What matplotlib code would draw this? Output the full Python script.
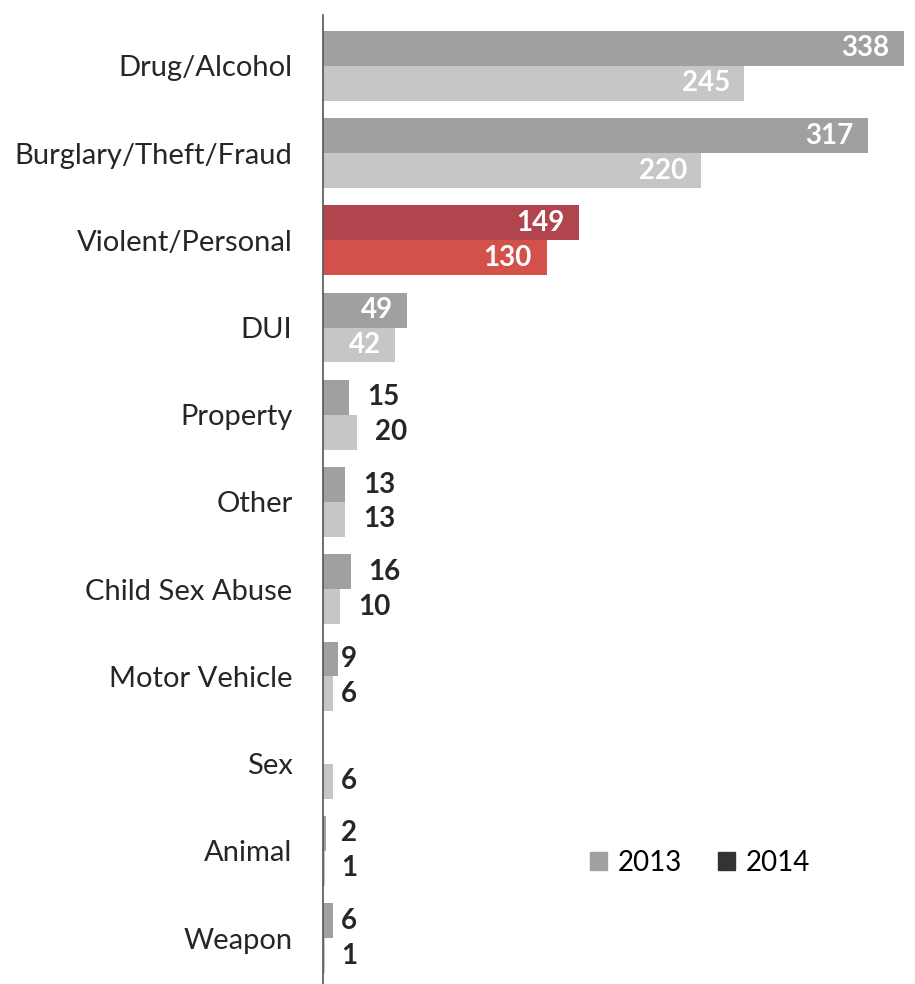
import numpy as np
import matplotlib.pyplot as plt
from matplotlib.patches import Patch

plt.rcParams['font.family'] = ['Lato', 'DejaVu Sans']

categories = ["Drug/Alcohol", "Burglary/Theft/Fraud", "Violent/Personal", "DUI",
              "Property", "Other", "Child Sex Abuse", "Motor Vehicle", "Sex",
              "Animal", "Weapon"]
vals_2013 = [338, 317, 149, 49, 15, 13, 16, 9, np.nan, 2, 6]
vals_2014 = [245, 220, 130, 42, 20, 13, 10, 6, 6, 1, 1]
highlight = "Violent/Personal"

c13, c14 = "#a0a0a0", "#c6c6c8"
r13, r14 = "#b0454d", "#d4504b"

fig = plt.figure(figsize=(9.15, 9.84), dpi=100)
ax = fig.add_axes([323 / 915, 0, 1 - 323 / 915, 1 - 15 / 984])

y = np.arange(len(categories))
h = 0.4
for i, cat in enumerate(categories):
    hl = cat == highlight
    for v, off, col in [(vals_2013[i], -h / 2, r13 if hl else c13),
                        (vals_2014[i], h / 2, r14 if hl else c14)]:
        if np.isnan(v):
            continue
        ax.barh(y[i] + off, v, height=h, color=col)
        if v >= 40:
            ax.text(v - 8.5, y[i] + off, str(int(v)), ha="right", va="center",
                    color="white", fontsize=20, fontweight="bold")
        else:
            # small values sit outside the bar end
            xt = v + 10.5 if v >= 10 else 10.5
            ax.text(xt, y[i] + off, str(int(v)), ha="left", va="center",
                    color="#262626", fontsize=20, fontweight="bold")

ax.set_xlim(0, (915 - 323) / 1.72)
ax.set_ylim(10 + 46 / 87.4, -51 / 87.4)
ax.set_yticks(y)
ax.set_yticklabels(categories, fontsize=21, color="#262626")
ax.tick_params(axis="y", length=0, pad=22)
ax.set_xticks([])
for s in ["top", "right", "bottom"]:
    ax.spines[s].set_visible(False)
ax.spines["left"].set_color("#555555")
ax.spines["left"].set_linewidth(1.2)

handles = [Patch(color=c13, label="2013"), Patch(color="#333333", label="2014")]
ax.legend(handles=handles, loc="center", bbox_to_anchor=((700 - 323) / 592, 1 - (863 - 15) / 969),
          ncol=2, frameon=False, fontsize=20, handlelength=0.6, handleheight=0.6,
          handletextpad=0.4, columnspacing=1.3)

fig.savefig("out.png", dpi=100)
